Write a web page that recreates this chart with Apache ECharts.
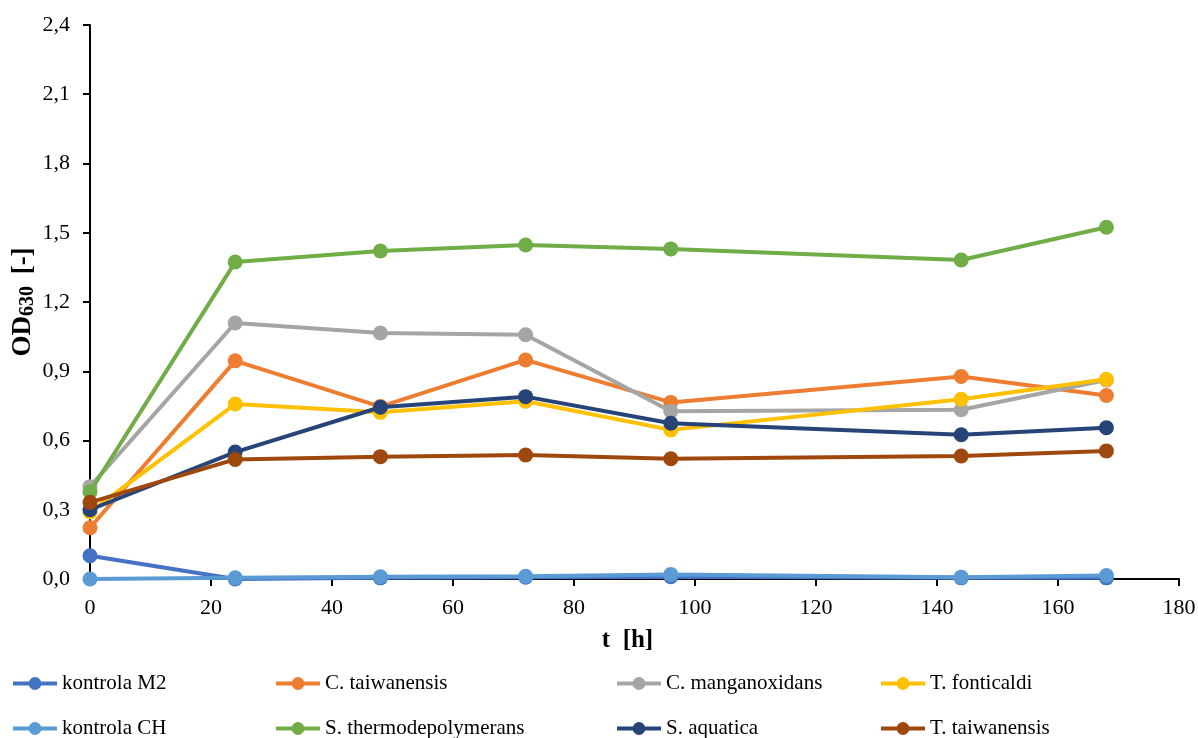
<!DOCTYPE html>
<html>
<head>
<meta charset="utf-8">
<script src="https://cdn.jsdelivr.net/npm/echarts@6/dist/echarts.min.js"></script>
<style>html,body{margin:0;padding:0;background:#fff}#c{width:1198px;height:738px}</style>
</head>
<body>
<div id="c"></div>
<script>
const times = [0, 24, 48, 72, 96, 144, 168];
const seriesNames = ['kontrola M2', 'C. taiwanensis', 'C. manganoxidans', 'T. fonticaldi',
  'kontrola CH', 'S. thermodepolymerans', 'S. aquatica', 'T. taiwanensis'];
const kontrolaM2 = [0.101, 0.0, 0.005, 0.008, 0.01, 0.005, 0.005];
const cTaiwanensis = [0.222, 0.945, 0.747, 0.949, 0.765, 0.877, 0.795];
const cManganoxidans = [0.400, 1.109, 1.066, 1.058, 0.727, 0.733, 0.862];
const tFonticaldi = [0.290, 0.758, 0.722, 0.770, 0.646, 0.779, 0.865];
const kontrolaCH = [0.0, 0.005, 0.01, 0.012, 0.02, 0.008, 0.015];
const sThermodepolymerans = [0.378, 1.373, 1.421, 1.447, 1.430, 1.382, 1.524];
const sAquatica = [0.300, 0.550, 0.744, 0.790, 0.675, 0.625, 0.655];
const tTaiwanensis = [0.332, 0.518, 0.530, 0.537, 0.521, 0.533, 0.555];
const yTicks = { min: 0, max: 2.4, interval: 0.3 };
const xTicks = { min: 0, max: 180, interval: 20 };

const allValues = [kontrolaM2, cTaiwanensis, cManganoxidans, tFonticaldi,
  kontrolaCH, sThermodepolymerans, sAquatica, tTaiwanensis];
const colors = ['#4472C4', '#ED7D31', '#A5A5A5', '#FFC000', '#5B9BD5', '#70AD47', '#264478', '#9E480E'];
const font = 'Liberation Serif';

const legendPos = [
  [11, 673], [274, 673], [615, 673], [879, 673],
  [11, 718], [274, 718], [615, 718], [879, 718]
];

const chart = echarts.init(document.getElementById('c'), null, { renderer: 'canvas' });
chart.setOption({
  animation: false,
  backgroundColor: '#fff',
  grid: { left: 90, right: 19, top: 25, bottom: 159, containLabel: false, outerBoundsMode: 'none' },
  legend: seriesNames.map((n, i) => ({
    data: [n],
    left: legendPos[i][0], top: legendPos[i][1],
    padding: 0, itemWidth: 44, itemHeight: 16,
    lineStyle: { width: 4 },
    textStyle: { fontFamily: font, fontSize: 21, color: '#000' }
  })),
  xAxis: {
    type: 'value', min: xTicks.min, max: xTicks.max, interval: xTicks.interval,
    name: 't  [h]', nameLocation: 'middle', nameGap: 49, nameMoveOverlap: false,
    nameTextStyle: { fontFamily: font, fontSize: 25, fontWeight: 'bold', color: '#000', padding: [0, 14, 0, 0] },
    axisLine: { show: true, lineStyle: { color: '#000', width: 2 } },
    axisTick: { show: true, length: 7, lineStyle: { color: '#000', width: 2 } },
    axisLabel: { fontFamily: font, fontSize: 22, color: '#000', margin: 18 },
    splitLine: { show: false }
  },
  yAxis: {
    type: 'value', min: yTicks.min, max: yTicks.max, interval: yTicks.interval,
    name: '{a|OD}{b|630}{a| [-]}', nameLocation: 'middle', nameGap: 52, nameMoveOverlap: false,
    nameTextStyle: {
      rich: {
        a: { fontFamily: font, fontSize: 27, fontWeight: 'bold', color: '#000' },
        b: { fontFamily: font, fontSize: 20, fontWeight: 'bold', color: '#000', verticalAlign: 'bottom', padding: [10, 5, 0, 0] }
      }
    },
    axisLine: { show: true, lineStyle: { color: '#000', width: 2 } },
    axisTick: { show: true, length: 7, lineStyle: { color: '#000', width: 2 } },
    axisLabel: { fontFamily: font, fontSize: 22, color: '#000', margin: 20,
      formatter: v => v.toFixed(1).replace('.', ',') },
    splitLine: { show: false }
  },
  series: seriesNames.map((n, i) => ({
    name: n, type: 'line',
    data: times.map((t, j) => [t, allValues[i][j]]),
    symbol: 'circle', symbolSize: 15,
    itemStyle: { color: colors[i] },
    lineStyle: { color: colors[i], width: 4 },
    z: 2 + i
  }))
});
</script>
</body>
</html>
